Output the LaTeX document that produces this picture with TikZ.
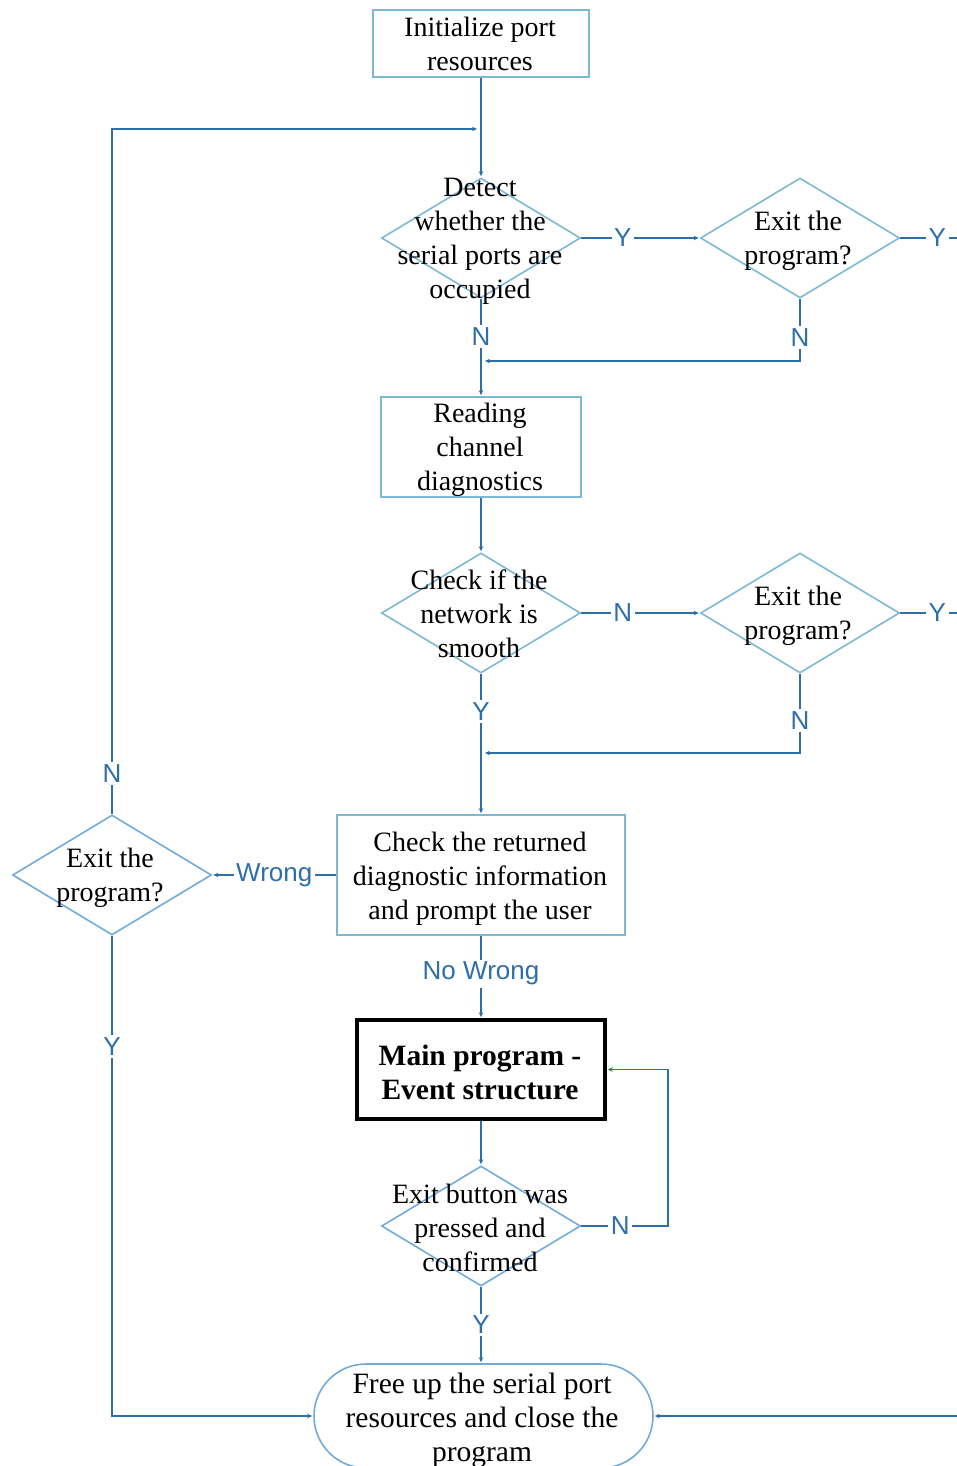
\documentclass[tikz,border=0pt]{standalone}
\usepackage{fontspec}
\setmainfont{Liberation Serif}
\newfontfamily\lblfont{Liberation Sans}
\usetikzlibrary{shapes.geometric,arrows.meta}
\definecolor{lineblue}{HTML}{2E6FAA}
\definecolor{boxblue}{HTML}{7DB8D4}
\definecolor{dblue}{HTML}{72AADC}
\begin{document}
\begin{tikzpicture}[x=1pt,y=-1pt,
  box/.style={draw=boxblue,line width=1.6pt,fill=white,inner sep=0pt},
  mainbox/.style={draw=black,line width=3.5pt,fill=white,inner sep=0pt},
  dia/.style={diamond,draw=boxblue,line width=1.6pt,inner sep=0pt,minimum width=199pt,minimum height=120pt},
  dia2/.style={dia,draw=dblue},
  txt/.style={align=center,inner sep=0pt,font=\fontsize{28}{34}\selectfont},
  bigtxt/.style={txt,font=\fontsize{29.5}{34}\selectfont},
  boldtxt/.style={txt,font=\bfseries\fontsize{29.5}{34}\selectfont},
  term/.style={draw=dblue,line width=1.6pt,fill=white,rounded corners=52pt,minimum width=339pt,minimum height=104pt,inner sep=0pt},
  line/.style={draw=lineblue,line width=1.8pt},
  conn/.style={line,-{Stealth[length=5pt,width=4.5pt]},shorten >=1pt},
  lbl/.style={fill=white,text=lineblue,inner sep=2.5pt,font=\lblfont\fontsize{26}{26}\selectfont}]
\useasboundingbox (0,0) rectangle (957,1466);

% shapes
\node[box,minimum width=216pt,minimum height=67pt] (init) at (481,43.5) {};
\node[dia] (d1) at (481,238) {};
\node[dia] (d2) at (800,238) {};
\node[box,minimum width=200pt,minimum height=100pt] (read) at (481,447) {};
\node[dia] (d3) at (481,613) {};
\node[dia] (d4) at (800,613) {};
\node[box,minimum width=288pt,minimum height=120pt] (check) at (481,875) {};
\node[dia2] (d5) at (112,875) {};
\node[mainbox,minimum width=248pt,minimum height=99pt] (main) at (481,1069.5) {};
\node[dia2] (d6) at (481,1226) {};
\node[term] (term) at (483.5,1416) {};

% texts
\node[txt] (ti) at (480,44) {Initialize port\\resources};
\node[txt] (t1) at (480,241) {Detect\\whether the\\serial ports are\\occupied};
\node[txt] (t2) at (798,241) {Exit the\\program?};
\node[txt] (tr) at (480,450) {Reading\\channel\\diagnostics};
\node[txt] (t3) at (479,614) {Check if the\\network is\\smooth};
\node[txt] (t4) at (798,616) {Exit the\\program?};
\node[txt] (tc) at (480,879) {Check the returned\\diagnostic information\\and prompt the user};
\node[txt] (t5) at (110,878) {Exit the\\program?};
\node[boldtxt] (tm) at (480,1072) {Main program -\\Event structure};
\node[txt] (t6) at (480,1228) {Exit button was\\pressed and\\confirmed};
\node[bigtxt] (tt) at (482,1420) {Free up the serial port\\resources and close the\\program};

% coordinates
\coordinate (j1) at (481,129);
\coordinate (j2) at (481,361);
\coordinate (j3) at (481,753);
\coordinate (r1) at (962,238);
\coordinate (r2) at (962,613);
\coordinate (r3) at (962,1416);
\coordinate (lp) at (668,1226);

% connectors
\draw[conn] (init) -- (d1);
\draw[conn,shorten >=4pt] (d5.north) -- node[lbl,pos=0.06]{N} (d5.north |- j1) -- (j1);
\draw[conn] (d1.east) -- node[lbl,pos=0.35]{Y} (d2.west);
\draw[line] (d2.east) -- node[lbl,pos=0.6]{Y} (r1);
\draw[conn,shorten >=4pt] (d2.south) -- node[lbl,pos=0.62]{N} (d2.south |- j2) -- (j2);
\draw[conn] (d1.south) -- node[lbl,pos=0.39]{N} (read.north);
\draw[conn] (read.south) -- (d3.north);
\draw[conn] (d3.east) -- node[lbl,pos=0.35]{N} (d4.west);
\draw[line] (d4.east) -- node[lbl,pos=0.6]{Y} (r2);
\draw[conn,shorten >=4pt] (d4.south) -- node[lbl,pos=0.59]{N} (d4.south |- j3) -- (j3);
\draw[conn] (d3.south) -- node[lbl,pos=0.27]{Y} (check.north);
\draw[conn] (check.west) -- node[lbl,pos=0.5]{Wrong} (d5.east);
\draw[conn] (d5.south) -- node[lbl,pos=0.23]{Y} (d5.south |- term.west) -- (term.west);
\draw[conn] (check.south) -- node[lbl,pos=0.46]{No Wrong} (main.north);
\draw[conn] (main.south) -- (d6.north);
\draw[conn] (d6.east) -- node[lbl,pos=0.45]{N} (lp) |- (main.east);
\draw[conn] (d6.south) -- node[lbl,pos=0.5]{Y} (d6.south |- term.north);
\draw[conn] (r3) -- (term.east);
\end{tikzpicture}
\end{document}
